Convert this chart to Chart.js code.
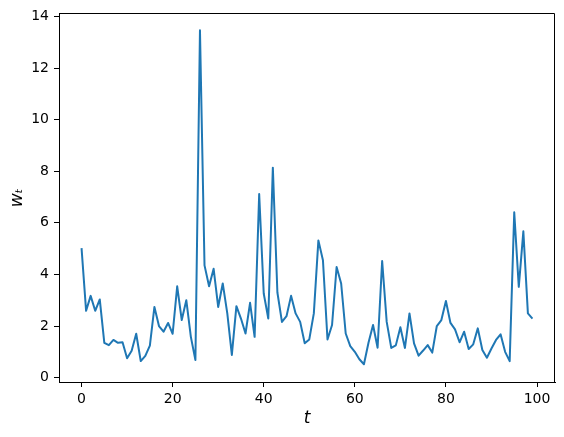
<!DOCTYPE html>
<html>
<head>
<meta charset="utf-8">
<script src="https://cdn.jsdelivr.net/npm/chart.js@4"></script>
<style>
  html, body { margin: 0; padding: 0; background: #fff; }
  #wrap { width: 564px; height: 437px; }
</style>
</head>
<body>
<div id="wrap"><canvas id="chart" width="564" height="437"></canvas></div>
<script>
// Series values, t = 0..99.
const wValues = [
  5.02, 2.59, 3.17, 2.59, 3.03, 1.35, 1.26, 1.46, 1.35, 1.37,
  0.75, 1.04, 1.70, 0.64, 0.84, 1.24, 2.74, 2.00, 1.78, 2.12,
  1.70, 3.54, 2.23, 3.00, 1.58, 0.68, 13.47, 4.35, 3.54, 4.22,
  2.74, 3.65, 2.49, 0.88, 2.77, 2.29, 1.71, 2.90, 1.58, 7.12,
  3.26, 2.29, 8.14, 3.30, 2.16, 2.38, 3.17, 2.49, 2.16, 1.33,
  1.48, 2.49, 5.32, 4.55, 1.48, 2.04, 4.29, 3.65, 1.71, 1.22,
  1.00, 0.71, 0.52, 1.35, 2.04, 1.16, 4.52, 2.16, 1.15, 1.25,
  1.95, 1.15, 2.49, 1.33, 0.85, 1.05, 1.26, 0.97, 2.00, 2.23,
  2.97, 2.12, 1.87, 1.37, 1.78, 1.11, 1.29, 1.91, 1.07, 0.77,
  1.13, 1.46, 1.68, 1.00, 0.64, 6.41, 3.52, 5.67, 2.49, 2.29
];
const tValues = wValues.map((_, i) => i);
const xTicks = [0, 20, 40, 60, 80, 100];
const yTicks = [0, 2, 4, 6, 8, 10, 12, 14];

const points = tValues.map((t, i) => ({ x: t, y: wValues[i] }));

// Top and right spines (left and bottom come from the axes).
const framePlugin = {
  id: "frame",
  afterDraw(chart) {
    const { ctx, chartArea: a } = chart;
    const top = Math.round(a.top) + 0.5;
    const right = Math.round(a.right) - 0.5;
    ctx.save();
    ctx.strokeStyle = "#000";
    ctx.lineWidth = 1;
    ctx.beginPath();
    ctx.moveTo(Math.round(a.left), top);
    ctx.lineTo(right, top);
    ctx.lineTo(right, Math.round(a.bottom) + 1);
    ctx.stroke();
    ctx.restore();
  },
};

const tickFont = { family: "DejaVu Sans", size: 14 };

new Chart(document.getElementById("chart"), {
  type: "line",
  data: {
    datasets: [
      {
        data: points,
        borderColor: "#1f77b4",
        borderWidth: 2,
        borderJoinStyle: "round",
        pointRadius: 0,
        tension: 0,
        fill: false,
      },
    ],
  },
  options: {
    responsive: false,
    animation: false,
    layout: { padding: { left: 0, top: 12, right: 9, bottom: 0 } },
    plugins: { legend: { display: false }, tooltip: { enabled: false } },
    scales: {
      x: {
        type: "linear",
        min: -4.95,
        max: 103.95,
        afterBuildTicks(scale) {
          scale.ticks = xTicks.map((v) => ({ value: v }));
        },
        afterFit(scale) {
          scale.height = 55;
        },
        grid: { drawOnChartArea: false, tickLength: 5, color: "#000", tickWidth: 1 },
        border: { display: true, color: "#000", width: 1 },
        ticks: { color: "#000", font: tickFont, padding: 4, maxRotation: 0 },
        title: {
          display: true,
          text: "t",
          color: "#000",
          font: { family: "DejaVu Sans", size: 17, style: "italic" },
          padding: { top: 0, bottom: 8 },
        },
      },
      y: {
        type: "linear",
        min: -0.17,
        max: 14.12,
        afterBuildTicks(scale) {
          scale.ticks = yTicks.map((v) => ({ value: v }));
        },
        afterFit(scale) {
          scale.width = 59;
        },
        grid: { drawOnChartArea: false, tickLength: 5, color: "#000", tickWidth: 1 },
        border: { display: true, color: "#000", width: 1 },
        ticks: { color: "#000", font: tickFont, padding: 5 },
        title: {
          display: true,
          text: "wₜ",
          color: "#000",
          font: { family: "DejaVu Sans", size: 17, style: "italic" },
          padding: { top: 7, bottom: 0 },
        },
      },
    },
  },
  plugins: [framePlugin],
});
</script>
</body>
</html>
